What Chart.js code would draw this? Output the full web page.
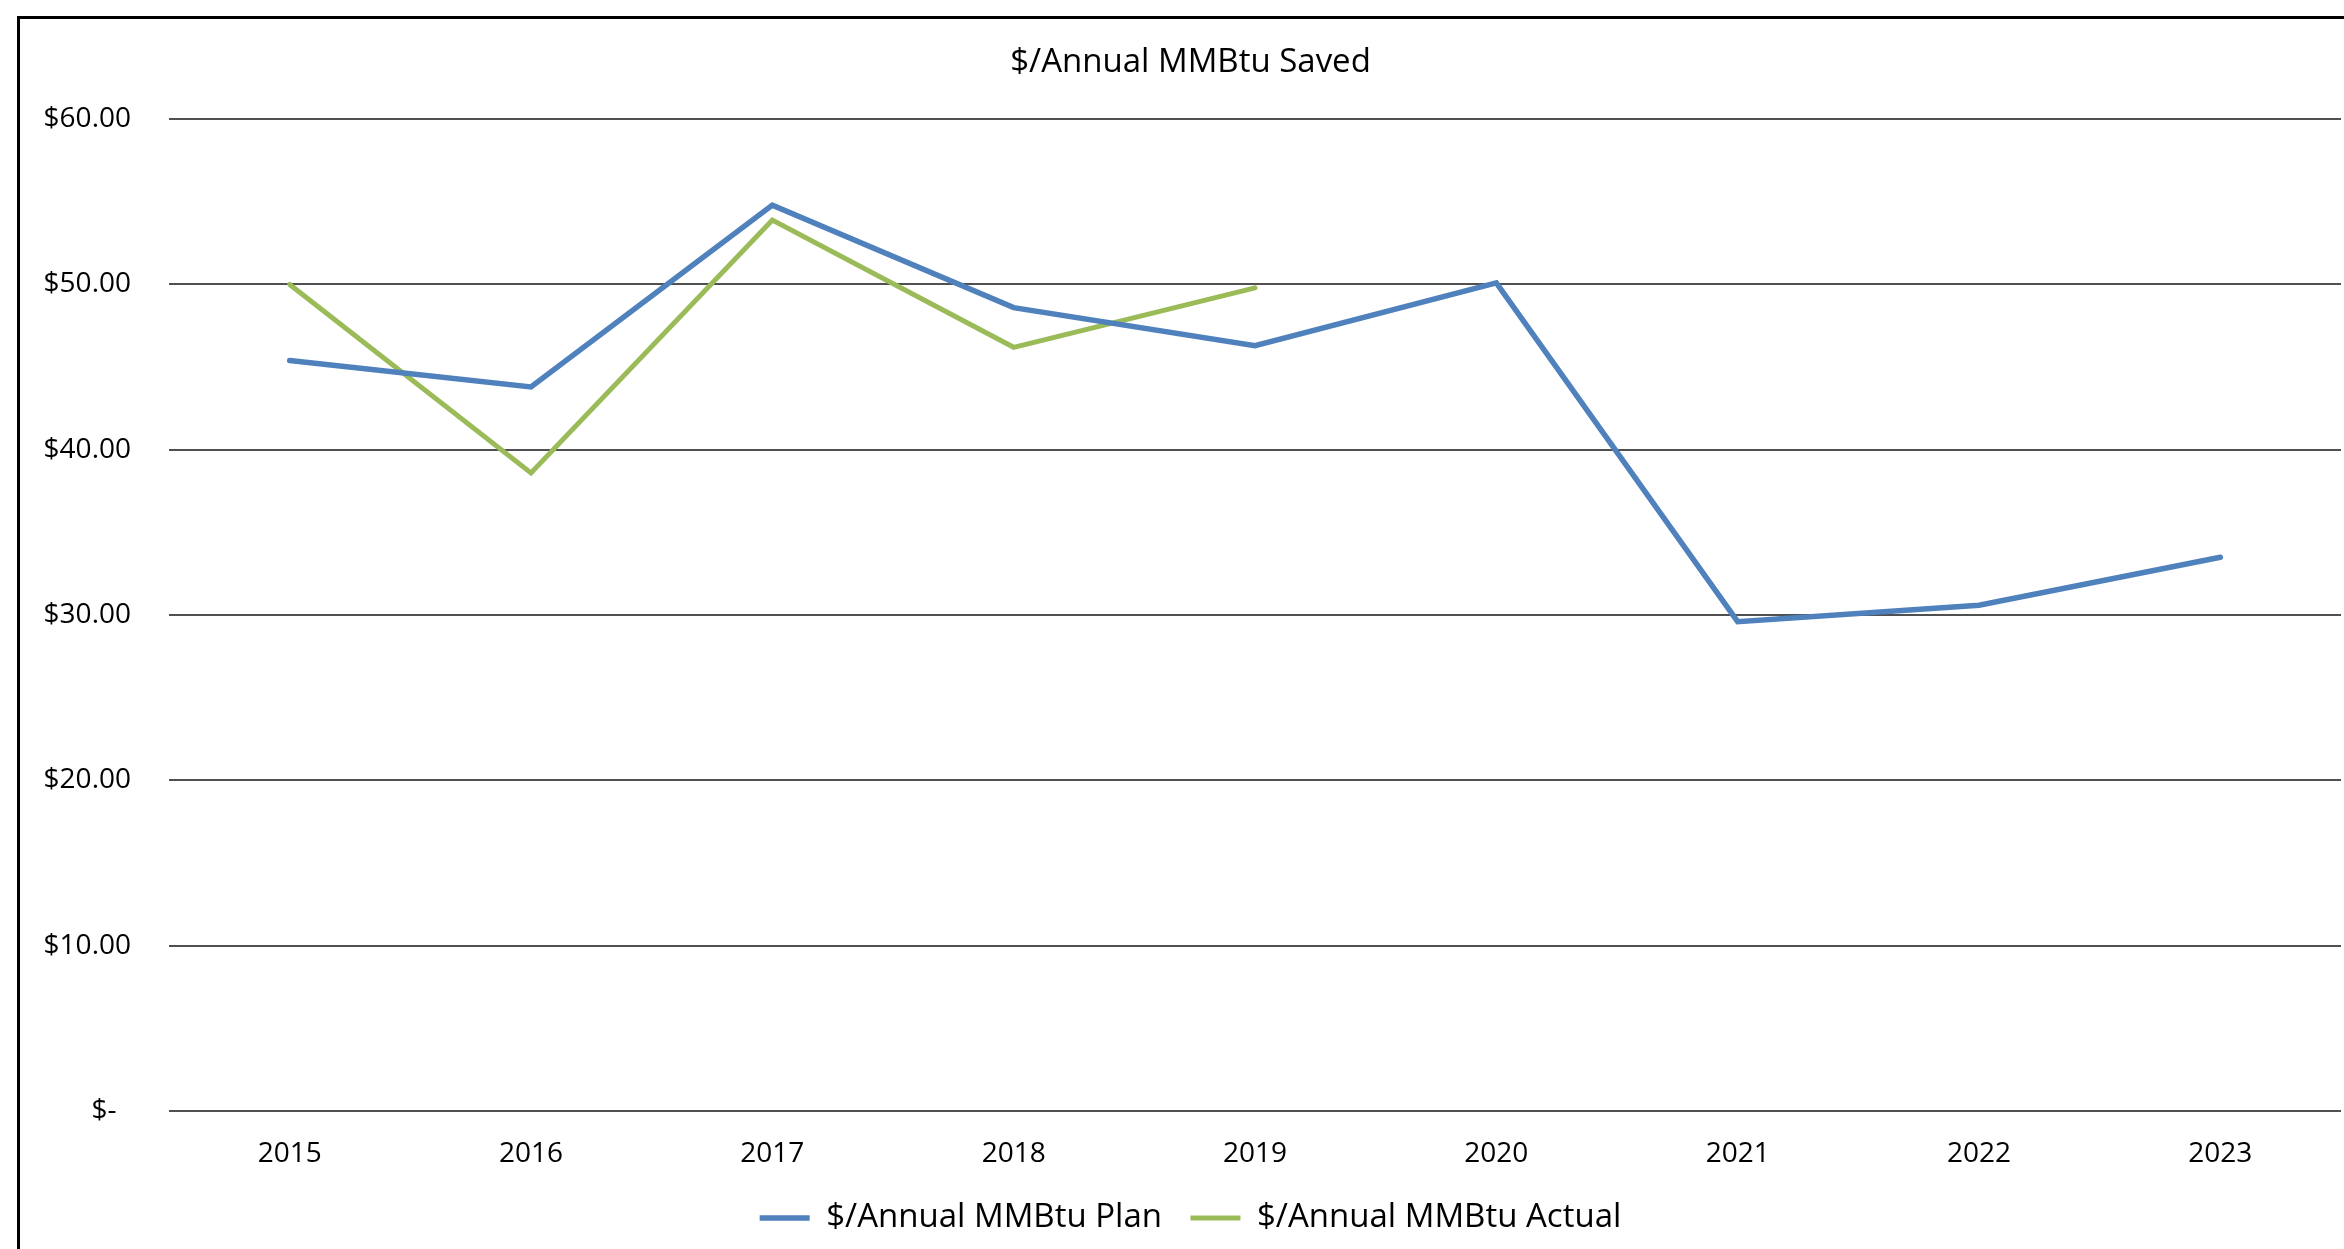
<!DOCTYPE html>
<html>
<head>
<meta charset="utf-8">
<title>$/Annual MMBtu Saved</title>
<script src="https://cdn.jsdelivr.net/npm/chart.js@4/dist/chart.umd.min.js"></script>
<style>
  html, body { margin: 0; padding: 0; background: #ffffff; overflow: hidden; }
  #wrap { position: relative; width: 2344px; height: 1249px; }
  #frame {
    position: absolute; left: 17px; top: 16px; right: -20px; bottom: -20px;
    border-left: 3px solid #000; border-top: 3px solid #000; pointer-events: none;
  }
  canvas { position: absolute; left: 0; top: 0; }
</style>
</head>
<body>
<div id="wrap">
  <canvas id="chart" width="2344" height="1249"></canvas>
  <div id="frame"></div>
</div>
<script>
// Years on the category axis
const years = ['2015', '2016', '2017', '2018', '2019', '2020', '2021', '2022', '2023'];

// Cost per annual MMBtu saved, planned
const planValues = [45.4, 43.8, 54.8, 48.6, 46.3, 50.1, 29.6, 30.6, 33.5];

// Cost per annual MMBtu saved, actual (reported through 2019)
const actualValues = [50.0, 38.6, 53.9, 46.2, 49.8, null, null, null, null];

// Value-axis ticks
const yTicks = [0, 10, 20, 30, 40, 50, 60];

const seriesNames = ['$/Annual MMBtu Plan', '$/Annual MMBtu Actual'];
const chartTitle = '$/Annual MMBtu Saved';

const FONT = "'Open Sans', 'Liberation Sans', sans-serif";

new Chart(document.getElementById('chart'), {
  type: 'line',
  data: {
    labels: years,
    datasets: [
      {
        label: seriesNames[0],
        data: planValues,
        borderColor: '#4F81BD',
        backgroundColor: '#4F81BD',
        borderWidth: 5.5,
        borderCapStyle: 'round',
        borderJoinStyle: 'miter',
        pointRadius: 0,
        tension: 0,
        fill: false
      },
      {
        label: seriesNames[1],
        data: actualValues,
        borderColor: '#9BBB59',
        backgroundColor: '#9BBB59',
        borderWidth: 5,
        borderCapStyle: 'round',
        borderJoinStyle: 'miter',
        pointRadius: 0,
        tension: 0,
        fill: false,
        spanGaps: false
      }
    ]
  },
  options: {
    responsive: false,
    animation: false,
    devicePixelRatio: 1,
    layout: { padding: { left: 40, right: 3, top: 0, bottom: 4.5 } },
    plugins: {
      title: {
        display: true,
        text: chartTitle,
        color: '#000',
        font: { family: FONT, size: 33, weight: 'normal', lineHeight: 1.2 },
        padding: { top: 43, bottom: 36.6 }
      },
      legend: {
        display: true,
        position: 'bottom',
        labels: {
          color: '#000',
          font: { family: FONT, size: 33 },
          usePointStyle: true,
          pointStyleWidth: 50,
          pointStyle: 'line',
          padding: 28.5
        }
      },
      tooltip: { enabled: false }
    },
    scales: {
      x: {
        offset: true,
        grid: { display: false, drawTicks: false },
        border: { display: false },
        ticks: {
          color: '#000',
          font: { family: FONT, size: 28 },
          padding: 26,
          maxRotation: 0,
          autoSkip: false
        },
        afterFit: (scale) => { scale.height = 62; }
      },
      y: {
        min: yTicks[0],
        max: yTicks[yTicks.length - 1],
        afterBuildTicks: (scale) => { scale.ticks = yTicks.map(v => ({ value: v })); },
        grid: { color: '#505050', lineWidth: 2, drawTicks: false },
        border: { display: false },
        ticks: {
          color: '#000',
          font: { family: FONT, size: 28 },
          padding: 38,
          callback: (v) => (v === 0 ? '$-  ' : '$' + Number(v).toFixed(2))
        },
        afterFit: (scale) => { scale.width = 129; }
      }
    }
  }
});
</script>
</body>
</html>
